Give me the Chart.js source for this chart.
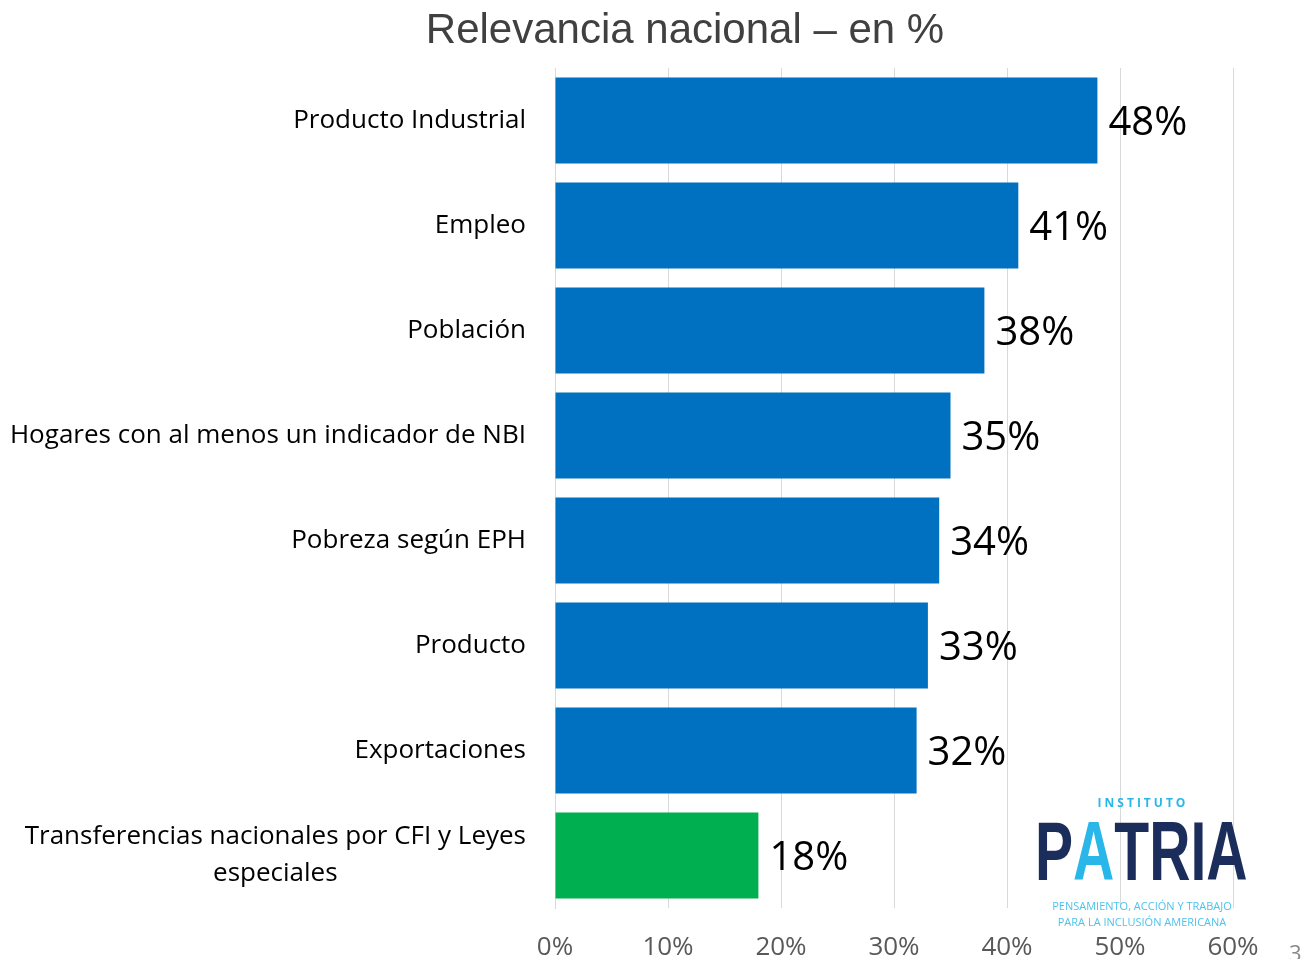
<!DOCTYPE html>
<html><head><meta charset="utf-8">
<script src="https://cdn.jsdelivr.net/npm/chart.js@4.4.1/dist/chart.umd.min.js"></script>
<style>html,body{margin:0;padding:0;background:#fff;}#wrap{width:1303px;height:959px;position:relative;}</style>
</head><body><div id="wrap"><canvas id="c" width="1303" height="959"></canvas></div>
<script>
const categories = [
  "Producto Industrial",
  "Empleo",
  "Población",
  "Hogares con al menos un indicador de NBI",
  "Pobreza según EPH",
  "Producto",
  "Exportaciones",
  ["Transferencias nacionales por CFI y Leyes", "especiales"]
];
const values = [48, 41, 38, 35, 34, 33, 32, 18];
const barColors = ["#0070C0","#0070C0","#0070C0","#0070C0","#0070C0","#0070C0","#0070C0","#00B050"];
const tickValues = [0, 10, 20, 30, 40, 50, 60];
const titleText = "Relevancia nacional – en %";

const LEFT = 555, TOP = 68, RIGHT = 70, XAXIS_H = 51;

const drawPlugin = {
  id: 'drawExtras',
  afterDraw(chart) {
    const ctx = chart.ctx;
    const y = chart.scales.y, x = chart.scales.x;
    ctx.save();
    // title
    ctx.fillStyle = '#404040';
    ctx.font = '42px "Liberation Sans", Arial, sans-serif';
    ctx.textAlign = 'center'; ctx.textBaseline = 'middle';
    ctx.fillText(titleText, 685, 31);
    // category labels
    ctx.fillStyle = '#000';
    ctx.font = '26px "Open Sans", sans-serif';
    categories.forEach((lab, i) => {
      const cy = y.getPixelForValue(i);
      if (Array.isArray(lab)) {
        ctx.textAlign = 'center';
        const w = ctx.measureText(lab[0]).width;
        const cx = 526 - w / 2;
        const lh = 37;
        lab.forEach((ln, j) => ctx.fillText(ln, cx, cy - lh * (lab.length - 1) / 2 + j * lh));
      } else {
        ctx.textAlign = 'right';
        ctx.fillText(lab, 526, cy);
      }
    });
    // data labels
    ctx.font = '40px "Open Sans", sans-serif';
    ctx.textAlign = 'left';
    values.forEach((v, i) => {
      ctx.fillText(v + '%', x.getPixelForValue(v) + 11, y.getPixelForValue(i) + 3);
    });
    // logo
    ctx.textAlign = 'center';
    ctx.fillStyle = '#29B6E8';
    ctx.font = 'bold 12px "Open Sans", sans-serif';
    ctx.letterSpacing = '3px';
    ctx.fillText('INSTITUTO', 1143, 804);
    ctx.letterSpacing = '0px';
    ctx.textBaseline = 'alphabetic';
    ctx.save();
    ctx.translate(1035, 880);
    ctx.scale(0.68, 1);
    ctx.font = 'bold 84px "Liberation Sans", Arial, sans-serif';
    ctx.textAlign = 'left';
    ctx.fillStyle = '#1B2D5B';
    ctx.fillText('P', 0, 0);
    let px = ctx.measureText('P').width;
    ctx.fillStyle = '#29B6E8';
    ctx.fillText('A', px, 0);
    px += ctx.measureText('A').width;
    ctx.fillStyle = '#1B2D5B';
    ctx.fillText('TRIA', px, 0);
    ctx.restore();
    ctx.textBaseline = 'middle';
    ctx.textAlign = 'center';
    ctx.fillStyle = '#4CC3EC';
    ctx.font = '11px "Open Sans", sans-serif';
    ctx.fillText('PENSAMIENTO, ACCIÓN Y TRABAJO', 1142, 907);
    ctx.fillText('PARA LA INCLUSIÓN AMERICANA', 1142, 923);
    // page number
    ctx.fillStyle = '#888';
    ctx.font = '22px "Open Sans", sans-serif';
    ctx.textAlign = 'left';
    ctx.fillText('3', 1289, 955);
    ctx.restore();
  }
};

new Chart(document.getElementById('c'), {
  type: 'bar',
  data: {
    labels: categories,
    datasets: [{ data: values, backgroundColor: barColors, borderWidth: 0,
      categoryPercentage: 1.0, barPercentage: 0.82 }]
  },
  options: {
    indexAxis: 'y',
    responsive: false,
    animation: false,
    devicePixelRatio: 1,
    layout: { padding: { left: 0, top: TOP, right: RIGHT, bottom: 0 } },
    plugins: { legend: { display: false }, tooltip: { enabled: false }, title: { display: false } },
    scales: {
      x: {
        min: 0, max: 60,
        afterBuildTicks(s) { s.ticks = tickValues.map(v => ({ value: v })); },
        afterFit(s) { s.height = XAXIS_H; },
        grid: { color: '#D9D9D9', lineWidth: 1, drawTicks: false },
        border: { display: false },
        ticks: { color: '#595959', font: { size: 26, family: '"Open Sans", sans-serif' }, padding: 24,
          callback: v => v + '%' }
      },
      y: {
        afterFit(s) { s.width = LEFT; },
        grid: { display: false },
        border: { display: true, color: '#D9D9D9', width: 1 },
        ticks: { display: false }
      }
    }
  },
  plugins: [drawPlugin]
});
</script></body></html>
